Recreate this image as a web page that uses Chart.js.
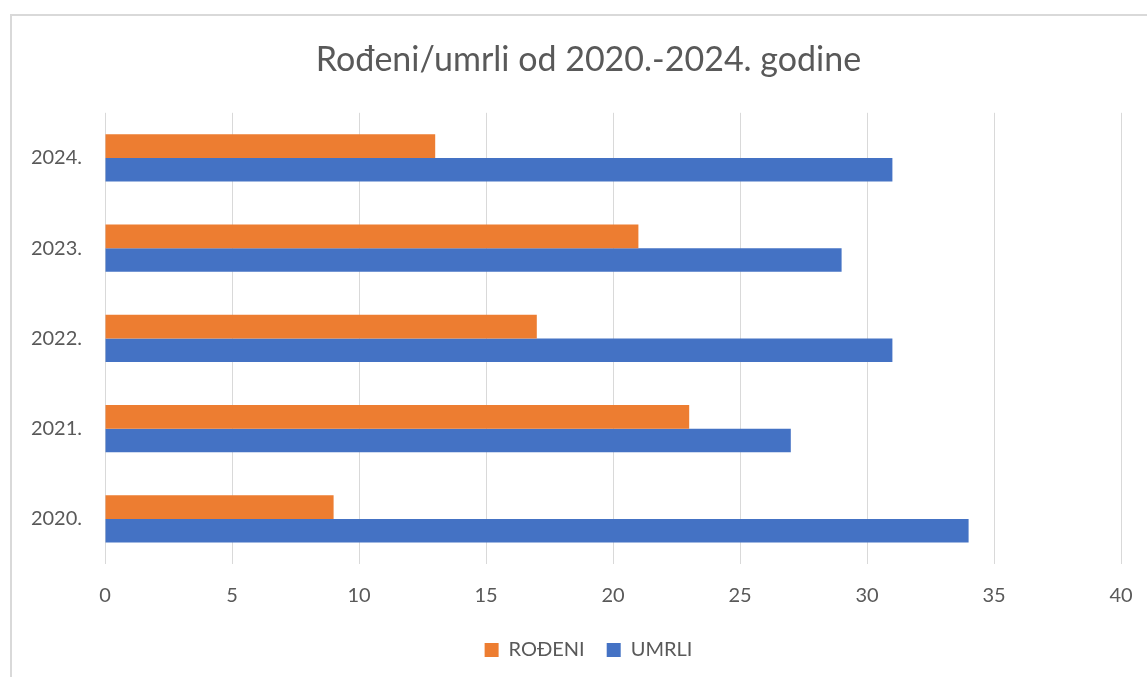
<!DOCTYPE html>
<html>
<head>
<meta charset="utf-8">
<script src="https://cdn.jsdelivr.net/npm/chart.js@4/dist/chart.umd.min.js"></script>
<style>
  html, body { margin: 0; padding: 0; background: #ffffff; overflow: hidden; width: 1147px; height: 677px; position: relative; }
  #frame { position: absolute; left: 10px; top: 14px; width: 2000px; height: 2000px; border-left: 2px solid #d9d9d9; border-top: 2px solid #d9d9d9; }
  #wrap { position: absolute; left: 0; top: 0; width: 1176px; height: 680px; }
</style>
</head>
<body>
<div id="frame"></div>
<div id="wrap"><canvas id="c" width="1176" height="680"></canvas></div>
<script>
const titleText = 'Rođeni/umrli od 2020.-2024. godine';
const years = ['2020.', '2021.', '2022.', '2023.', '2024.'];
const seriesNames = ['ROĐENI', 'UMRLI'];
const rodeni = [9, 23, 17, 21, 13];
const umrli = [34, 27, 31, 29, 31];
const xTicks = [0, 5, 10, 15, 20, 25, 30, 35, 40];

const FONT = 'Lato';
const TEXT = '#595959';

// centre title and legend on the chart frame (not the plot), and lift the legend a little
const boxShift = {
  id: 'boxShift',
  afterLayout(chart) {
    if (chart.titleBlock) { chart.titleBlock.left += 56; }
    if (chart.legend) {
      chart.legend.left += 56;
      chart.legend.top -= 10;
      chart.legend.bottom -= 10;
    }
  }
};

new Chart(document.getElementById('c'), {
  type: 'bar',
  data: {
    labels: years,
    datasets: [
      { label: seriesNames[0], data: rodeni, backgroundColor: '#ED7D31', borderWidth: 0 },
      { label: seriesNames[1], data: umrli, backgroundColor: '#4472C4', borderWidth: 0 }
    ]
  },
  plugins: [boxShift],
  options: {
    indexAxis: 'y',
    responsive: false,
    animation: false,
    devicePixelRatio: 1,
    layout: { padding: { left: 0, right: 55, top: 0, bottom: 0 } },
    datasets: { bar: { categoryPercentage: 0.525, barPercentage: 1 } },
    scales: {
      x: {
        min: xTicks[0],
        max: xTicks[xTicks.length - 1],
        afterBuildTicks: (axis) => { axis.ticks = xTicks.map(v => ({ value: v })); },
        grid: { color: '#d9d9d9', lineWidth: 1, drawTicks: false },
        border: { display: false },
        ticks: { color: TEXT, font: { family: FONT, size: 20 }, padding: 20 }
      },
      y: {
        reverse: true,
        grid: { display: false, drawTicks: false },
        border: { display: false },
        afterFit: (axis) => { axis.width = 105; },
        ticks: { color: TEXT, font: { family: FONT, size: 20 }, padding: 23 }
      }
    },
    plugins: {
      title: {
        display: true,
        text: titleText,
        color: TEXT,
        font: { family: FONT, size: 34, weight: 'normal' },
        padding: { top: 40, bottom: 32 }
      },
      legend: {
        position: 'bottom',
        labels: {
          color: TEXT,
          font: { family: FONT, size: 20 },
          boxWidth: 14,
          boxHeight: 14,
          padding: 22
        }
      },
      tooltip: { enabled: false }
    }
  }
});
</script>
</body>
</html>
